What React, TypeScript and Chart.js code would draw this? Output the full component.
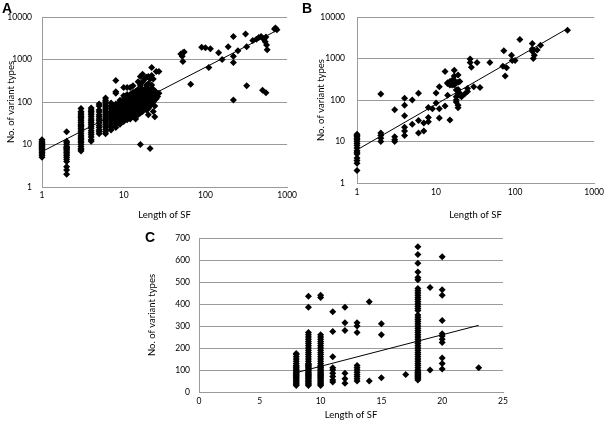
import React, { useEffect, useRef } from 'react';
import { Chart, registerables } from 'chart.js';

Chart.register(...registerables);

// ---------- Data ----------
const xTitle = 'Length of SF';
const yTitle = 'No. of variant types';

const logXTicks = [1, 10, 100, 1000];
const logYTicks = [1, 10, 100, 1000, 10000];

// Panel A: columns of [length, values]
const aColumns: [number, number[]][] = [
  [1, [5, 5.5, 6, 6.5, 7, 7.5, 8, 8.5, 9, 9.5, 10, 10.5, 11, 12, 13]],
  [2, [2, 2.5, 3, 4, 4.5, 5, 5.5, 6, 6.5, 7, 7.5, 8, 8.5, 9, 10, 11, 12, 20]],
  [3, [7, 7.5, 8, 9, 10, 11, 12, 13, 14, 15, 16, 18, 20, 22, 24, 26, 28, 30, 33, 36, 40, 43, 46, 50, 55, 60, 70]],
  [4, [12, 13, 15, 17, 19, 21, 24, 27, 30, 33, 36, 40, 45, 50, 55, 60, 65, 72]],
  [5, [18, 20, 22, 25, 28, 32, 36, 40, 45, 50, 58, 65, 80, 90]],
  [6, [18, 20, 23, 26, 30, 34, 38, 42, 47, 52, 58, 65, 72, 80, 90, 100, 110, 125]],
  [7, [22, 25, 28, 32, 36, 40, 45, 50, 55, 60, 70, 80, 95]],
  [8, [25, 28, 32, 36, 40, 45, 50, 55, 60, 65, 70, 75, 80, 90, 160, 175, 320]],
  [9, [30, 35, 40, 45, 50, 55, 60, 65, 70, 75, 80, 90, 100, 110]],
  [10, [35, 40, 45, 50, 55, 60, 65, 70, 80, 90, 100, 120, 140, 220]],
  [11, [38, 45, 50, 55, 60, 70, 80, 90, 100, 110, 130, 150, 220]],
  [12, [40, 50, 60, 65, 70, 80, 90, 100, 120, 150, 220]],
  [13, [45, 55, 60, 70, 80, 90, 100, 110, 130, 170, 240]],
  [14, [40, 50, 60, 75, 85, 95, 110, 140, 180]],
  [15, [50, 60, 70, 80, 100, 120, 160, 200, 300]],
  [16, [10, 55, 65, 80, 95, 110, 130, 180, 250, 400]],
  [17, [60, 70, 85, 100, 120, 150, 200, 300, 450]],
  [18, [70, 90, 110, 130, 160, 200, 350]],
  [19, [65, 80, 100, 120, 150, 180, 250, 380]],
  [20, [50, 70, 90, 110, 130, 160, 200, 270, 400]],
  [21, [8, 80, 100, 140, 200, 350]],
  [22, [90, 120, 160, 250, 420, 650]],
  [23, [60, 100, 150, 200, 350]],
  [24, [45, 80, 130, 180]],
  [25, [120, 170, 520]],
  [26, [135]],
  [27, [160, 520]],
];
const aScatter: [number, number][] = [
  [50, 1350], [53, 1450], [55, 1500], [52, 1200], [53, 900], [66, 260],
  [90, 1950], [100, 1900], [110, 650], [115, 1800], [145, 1450], [160, 1000],
  [190, 2000], [220, 3500], [220, 1200], [220, 850], [220, 112], [250, 1600],
  [310, 4000], [320, 2000], [320, 240], [380, 2800], [420, 3000], [450, 3300],
  [480, 3500], [500, 3200], [520, 3000], [540, 2600], [560, 2200], [570, 1700],
  [550, 3400], [500, 190], [550, 165], [700, 5200], [720, 5500], [750, 5000],
];
const aTrend: [number, number][] = [[1, 6.8], [760, 4900]];

// Panel B
const bColumns: [number, number[]][] = [
  [1, [2, 3, 3.5, 4, 5, 5.5, 6, 7, 8, 9, 10, 11, 12, 13, 14, 15]],
  [2, [10, 12, 14, 16, 140]],
  [3, [10, 11, 13, 58]],
  [4, [14, 18, 22, 42, 75, 110]],
  [5, [26, 100]],
  [6, [16, 32, 145]],
  [7, [18, 28]],
  [8, [30, 38, 66]],
  [9, [62]],
  [10, [85, 148]],
  [11, [37, 62, 210]],
  [13, [72, 490]],
  [14, [130, 250, 260]],
  [15, [33, 230, 240, 280]],
  [16, [230, 260, 300]],
  [17, [230, 280, 300, 380, 520]],
  [18, [90, 100, 120, 175]],
  [19, [65, 75, 140, 180, 270, 400]],
  [20, [130, 145, 280]],
];
const bScatter: [number, number][] = [
  [21, 120], [23, 140], [25, 160], [25, 190], [27, 970], [27, 800], [28, 620],
  [30, 210], [33, 800], [36, 200], [48, 800], [70, 650], [72, 1550], [75, 380],
  [78, 600], [90, 1200], [92, 900], [100, 900], [115, 2900], [165, 2300],
  [165, 1700], [165, 1500], [170, 1000], [175, 1200], [190, 1600], [210, 2100],
  [460, 4800],
];
const bTrend: [number, number][] = [[1, 6.3], [460, 5300]];

// Panel C
const cColumns: [number, number[]][] = [
  [8, [30, 35, 40, 45, 50, 55, 60, 65, 70, 75, 80, 85, 90, 95, 100, 105, 110, 115, 120, 130, 140, 150, 160, 170, 175]],
  [9, [30, 35, 40, 45, 50, 55, 60, 65, 70, 75, 80, 85, 90, 95, 100, 105, 110, 115, 120, 125, 130, 140, 150, 160, 170, 180, 190, 200, 210, 220, 230, 240, 250, 260, 270, 385, 435]],
  [10, [30, 35, 40, 45, 50, 55, 60, 65, 70, 75, 80, 85, 90, 95, 100, 105, 110, 115, 120, 130, 140, 150, 160, 170, 180, 190, 200, 210, 220, 230, 240, 250, 260, 430, 440]],
  [11, [45, 55, 70, 85, 100, 110, 160, 275, 365]],
  [12, [40, 60, 85, 280, 315, 385]],
  [13, [50, 60, 70, 80, 90, 100, 110, 120, 270, 300, 315]],
  [14, [50, 410]],
  [15, [65, 260, 310]],
  [17, [80]],
  [18, [55, 60, 65, 70, 75, 80, 85, 90, 95, 100, 110, 120, 130, 140, 150, 160, 170, 180, 190, 200, 210, 220, 230, 240, 250, 260, 270, 280, 290, 300, 310, 320, 330, 340, 350, 370, 380, 390, 400, 410, 420, 430, 440, 450, 460, 470, 510, 520, 545, 585, 625, 660]],
  [19, [100, 475]],
  [20, [105, 130, 155, 225, 240, 255, 265, 325, 440, 465, 615]],
  [23, [110]],
];
const cScatter: [number, number][] = [];
const cTrend: [number, number][] = [[8, 88], [23, 303]];
const cXTicks = [0, 5, 10, 15, 20, 25];
const cYTicks = [0, 100, 200, 300, 400, 500, 600, 700];

// ---------- Styling ----------
const TITLE_FONT = 'Lato, "Liberation Sans", sans-serif';
const TICK_FONT = '"Liberation Sans Narrow", Lato, sans-serif';
const GRID = '#9a9a9a';

type PanelSpec = {
  columns: [number, number[]][];
  scatter: [number, number][];
  trend: [number, number][];
  log: boolean;
  xMin: number; xMax: number; yMin: number; yMax: number;
  xTicks: number[]; yTicks: number[];
  padTop: number; padRight: number;
  yWidth: number; xHeight: number;
  yTickPad: number; xTickPad: number;
  yTitlePad: number; xTitlePad: number;
};

function makeConfig(p: PanelSpec): any {
  const pts = p.columns.flatMap(([x, ys]) => ys.map((y) => ({ x, y })));
  p.scatter.forEach(([x, y]) => pts.push({ x, y }));
  const tickFont = { family: TICK_FONT, size: 8.5 };
  const titleFont = { family: TITLE_FONT, size: 9.5 };
  const type = p.log ? 'logarithmic' : 'linear';
  return {
    type: 'scatter',
    data: {
      datasets: [
        {
          data: pts,
          pointStyle: 'rectRot',
          pointRadius: 3.5,
          pointHoverRadius: 3.5,
          backgroundColor: '#000',
          borderColor: '#000',
          borderWidth: 0,
          clip: false,
        },
        {
          data: p.trend.map(([x, y]) => ({ x, y })),
          showLine: true,
          borderColor: '#000',
          borderWidth: 1,
          pointRadius: 0,
          fill: false,
          clip: false,
        },
      ],
    },
    options: {
      responsive: false,
      animation: false,
      devicePixelRatio: 1,
      events: [],
      layout: { padding: { left: 0, right: p.padRight, top: p.padTop, bottom: 0 } },
      plugins: { legend: { display: false }, tooltip: { enabled: false } },
      scales: {
        x: {
          type,
          min: p.xMin,
          max: p.xMax,
          afterBuildTicks: (s: any) => { s.ticks = p.xTicks.map((v) => ({ value: v })); },
          afterFit: (s: any) => { s.height = p.xHeight; },
          grid: { display: false, drawTicks: false },
          border: { display: true, color: GRID, width: 1 },
          ticks: {
            font: tickFont, color: '#000', padding: p.xTickPad,
            maxRotation: 0, autoSkip: false,
            callback: (v: any) => String(v),
          },
          title: { display: true, text: xTitle, font: titleFont, color: '#000', padding: { top: 0, bottom: p.xTitlePad } },
        },
        y: {
          type,
          min: p.yMin,
          max: p.yMax,
          afterBuildTicks: (s: any) => { s.ticks = p.yTicks.map((v) => ({ value: v })); },
          afterFit: (s: any) => { s.width = p.yWidth; },
          grid: { display: true, drawTicks: false, color: GRID, lineWidth: 1 },
          border: { display: true, color: GRID, width: 1 },
          ticks: {
            font: tickFont, color: '#000', padding: p.yTickPad, autoSkip: false,
            callback: (v: any) => String(v),
          },
          title: { display: true, text: yTitle, font: titleFont, color: '#000', padding: { top: p.yTitlePad, bottom: 0 } },
        },
      },
    },
  };
}

const panelA: PanelSpec = {
  columns: aColumns, scatter: aScatter, trend: aTrend, log: true,
  xMin: 1, xMax: 1000, yMin: 1, yMax: 10000, xTicks: logXTicks, yTicks: logYTicks,
  padTop: 17, padRight: 11, yWidth: 42, xHeight: 35,
  yTickPad: 10, xTickPad: 3, yTitlePad: 5, xTitlePad: 1,
};
const panelB: PanelSpec = {
  columns: bColumns, scatter: bScatter, trend: bTrend, log: true,
  xMin: 1, xMax: 1000, yMin: 1, yMax: 10000, xTicks: logXTicks, yTicks: logYTicks,
  padTop: 17, padRight: 10, yWidth: 57, xHeight: 39,
  yTickPad: 12, xTickPad: 4, yTitlePad: 15, xTitlePad: 1,
};
const panelC: PanelSpec = {
  columns: cColumns, scatter: cScatter, trend: cTrend, log: false,
  xMin: 0, xMax: 25, yMin: 0, yMax: 700, xTicks: cXTicks, yTicks: cYTicks,
  padTop: 16, padRight: 17, yWidth: 69, xHeight: 30,
  yTickPad: 9, xTickPad: 4, yTitlePad: 16, xTitlePad: 1,
};

function Panel({ spec, left, top, width, height }: { spec: PanelSpec; left: number; top: number; width: number; height: number }) {
  const ref = useRef<HTMLCanvasElement | null>(null);
  useEffect(() => {
    if (!ref.current) return;
    const chart = new Chart(ref.current, makeConfig(spec));
    return () => chart.destroy();
  }, [spec]);
  return (
    <canvas
      ref={ref}
      width={width}
      height={height}
      style={{ position: 'absolute', left, top, width, height }}
    />
  );
}

const letterStyle: React.CSSProperties = {
  position: 'absolute',
  fontFamily: '"Liberation Sans", Arial, sans-serif',
  fontWeight: 'bold',
  fontSize: 14,
  lineHeight: '14px',
  color: '#000',
};

export default function App() {
  return (
    <div style={{ position: 'fixed', left: 0, top: 0, width: 608, height: 422, background: '#fff', overflow: 'hidden' }}>
      <Panel spec={panelA} left={0} top={0} width={300} height={222} />
      <Panel spec={panelB} left={300} top={0} width={308} height={222} />
      <Panel spec={panelC} left={130} top={222} width={390} height={200} />
      <div style={{ ...letterStyle, left: 2, top: 1 }}>A</div>
      <div style={{ ...letterStyle, left: 302, top: 1 }}>B</div>
      <div style={{ ...letterStyle, left: 145, top: 230 }}>C</div>
    </div>
  );
}
